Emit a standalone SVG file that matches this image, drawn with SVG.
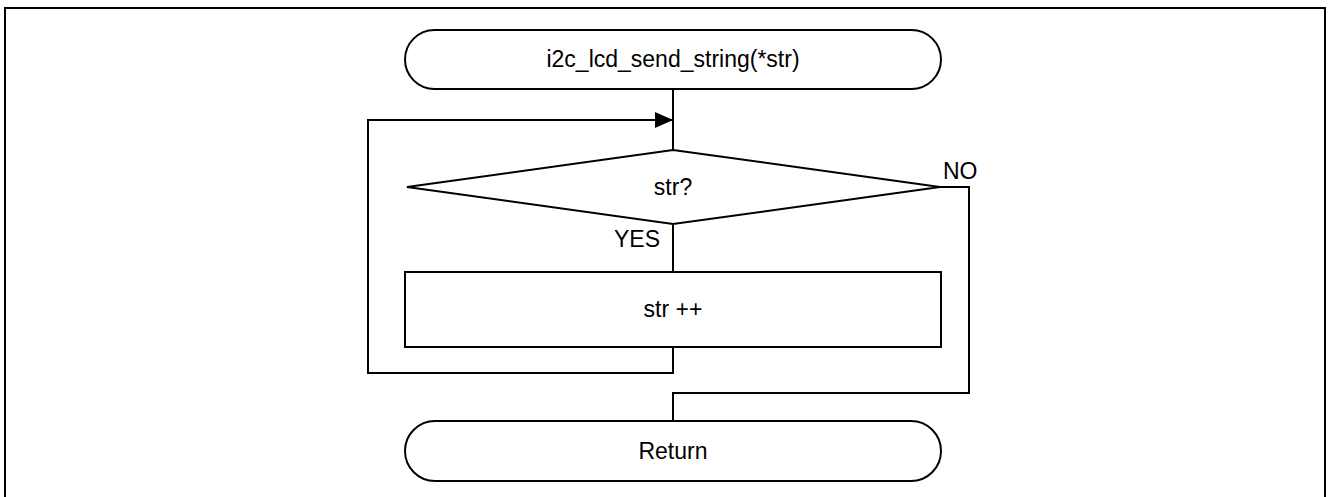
<svg xmlns="http://www.w3.org/2000/svg" width="1328" height="497" viewBox="0 0 1328 497">
  <style>
    .shape { fill: #ffffff; stroke: #000000; stroke-width: 2; }
    .wire { fill: none; stroke: #000000; stroke-width: 2; }
    .label { font-family: "Liberation Sans", Arial, sans-serif; font-size: 23px; fill: #000000; }
    .mid { text-anchor: middle; }
  </style>

  <!-- outer frame -->
  <path d="M5,510 L5,8 L1325,8 L1325,510" class="wire"/>

  <!-- connectors -->
  <g id="connectors">
    <line x1="673" y1="89" x2="673" y2="150" class="wire"/>
    <path d="M673,347 L673,373 L368,373 L368,120 L673,120" class="wire"/>
    <path d="M655,112 L673,120 L655,128 Z" fill="#000000"/>
    <line x1="673" y1="224" x2="673" y2="272" class="wire"/>
    <path d="M940,187 L969,187 L969,393 L673,393 L673,421" class="wire"/>
    <text x="660" y="247" class="label" text-anchor="end">YES</text>
    <text x="943" y="179" class="label">NO</text>
  </g>

  <g id="start">
    <rect x="405" y="30" width="536" height="59" rx="29.5" ry="29.5" class="shape"/>
    <text x="673" y="67" class="label mid">i2c_lcd_send_string(*str)</text>
  </g>

  <g id="decision">
    <polygon points="673,150 940,187 673,224 407,187" class="shape"/>
    <text x="673" y="195" class="label mid">str?</text>
  </g>

  <g id="increment">
    <rect x="405" y="272" width="536" height="75" class="shape"/>
    <text x="673" y="317" class="label mid">str ++</text>
  </g>

  <g id="return">
    <rect x="405" y="421" width="536" height="60" rx="30" ry="30" class="shape"/>
    <text x="673" y="459" class="label mid">Return</text>
  </g>
</svg>
